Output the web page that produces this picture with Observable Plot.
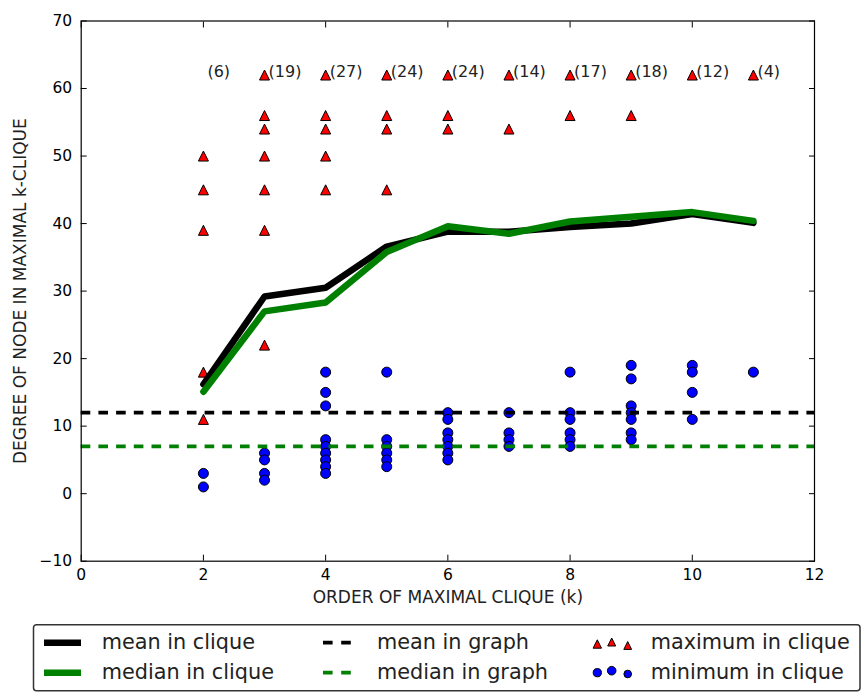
<!DOCTYPE html>
<html><head><meta charset="utf-8">
<script src="https://cdn.jsdelivr.net/npm/d3@7"></script>
<script src="https://cdn.jsdelivr.net/npm/@observablehq/plot@0.6"></script>
<style>
html,body{margin:0;padding:0;background:#fff;}
#chart{position:relative;width:862px;height:692px;font-family:"DejaVu Sans",sans-serif;}
#legend{display:block;}
</style></head><body><div id="chart"></div>
<script>
// ---- data ----
const cliqueOrder = [2, 3, 4, 5, 6, 7, 8, 9, 10, 11];
const cliqueCounts = [6, 19, 27, 24, 24, 14, 17, 18, 12, 4];
const meanInClique = [16.2, 29.2, 30.5, 36.6, 38.8, 38.8, 39.5, 40.0, 41.4, 40.1];
const medianInClique = [15.1, 27.0, 28.3, 35.8, 39.6, 38.5, 40.3, 41.0, 41.7, 40.4];
const meanInGraph = 12;
const medianInGraph = 7;
const maxInClique = [
  [50, 45, 39, 18, 11],
  [62, 56, 54, 50, 45, 39, 22],
  [62, 56, 54, 50, 45],
  [62, 56, 54, 45],
  [62, 56, 54],
  [62, 54],
  [62, 56],
  [62, 56],
  [62],
  [62]
];
const minInClique = [
  [3, 1],
  [6, 5, 3, 2],
  [18, 15, 13, 8, 7, 6, 5, 4, 3],
  [18, 8, 7, 6, 5, 4],
  [12, 11, 9, 8, 7, 6, 5],
  [12, 9, 8, 7],
  [18, 12, 11, 9, 8, 7],
  [19, 17, 13, 12, 11, 9, 8],
  [19, 18, 15, 11],
  [18]
];
const countLabelY = 62;
const xTicks = [0, 2, 4, 6, 8, 10, 12];
const yTicks = [-10, 0, 10, 20, 30, 40, 50, 60, 70];
const xLabel = "ORDER OF MAXIMAL CLIQUE (k)";
const yLabel = "DEGREE OF NODE IN MAXIMAL k-CLIQUE";
const legendItems = ["mean in clique", "median in clique", "mean in graph", "median in graph", "maximum in clique", "minimum in clique"];

// ---- derived tables ----
const lineRows = cliqueOrder.map((k, i) => ({k, mean: meanInClique[i], median: medianInClique[i]}));
const maxRows = cliqueOrder.flatMap((k, i) => maxInClique[i].map(v => ({k, v})));
const minRows = cliqueOrder.flatMap((k, i) => minInClique[i].map(v => ({k, v})));
const countRows = cliqueOrder.map((k, i) => ({k, y: countLabelY, label: `(${cliqueCounts[i]})`}));

const triangleUp = {
  draw(ctx, size) {
    const r = Math.sqrt(size / Math.PI);
    ctx.moveTo(0, -r);
    ctx.lineTo(r, r);
    ctx.lineTo(-r, r);
    ctx.closePath();
  }
};

const chart = Plot.plot({
  width: 862,
  height: 620,
  marginLeft: 80.7,
  marginRight: 48,
  marginTop: 20.5,
  marginBottom: 59.3,
  style: {fontFamily: "DejaVu Sans, sans-serif", fontSize: "15.5px", color: "black", background: "white"},
  x: {domain: [0, 12]},
  y: {domain: [-10, 70]},
  marks: [
    Plot.dot(maxRows, {x: "k", y: "v", symbol: triangleUp, r: 5, fill: "#ff0000", stroke: "black", strokeWidth: 1}),
    Plot.dot(minRows, {x: "k", y: "v", symbol: "circle", r: 5, fill: "#0000ff", stroke: "black", strokeWidth: 1}),
    Plot.line(lineRows, {x: "k", y: "mean", stroke: "black", strokeWidth: 6.5}),
    Plot.line(lineRows, {x: "k", y: "median", stroke: "#008000", strokeWidth: 6.5}),
    Plot.ruleY([meanInGraph], {stroke: "black", strokeWidth: 3.8, strokeDasharray: "9.6,8.1"}),
    Plot.ruleY([medianInGraph], {stroke: "#008000", strokeWidth: 3.8, strokeDasharray: "9.6,8.1"}),
    Plot.text(countRows, {x: "k", y: "y", text: "label", textAnchor: "start", lineAnchor: "bottom", dx: 4, dy: 2, fontSize: 16, fill: "#222"}),
    Plot.axisX({ticks: xTicks, tickSize: -6, tickPadding: 14, label: null, tickFormat: d => d}),
    Plot.axisX({ticks: xTicks, anchor: "top", tickSize: -6, label: null, tickFormat: () => ""}),
    Plot.axisY({ticks: yTicks, tickSize: -6, tickPadding: 15, label: null, tickFormat: d => d < 0 ? "\u2212" + Math.abs(d) : String(d)}),
    Plot.axisY({ticks: yTicks, anchor: "right", tickSize: -6, label: null, tickFormat: () => ""}),
    Plot.frame({stroke: "black", strokeWidth: 1.2}),
    Plot.text([xLabel], {text: d => d, frameAnchor: "bottom", textAnchor: "middle", dy: 41.3, fontSize: 17, fill: "#222"}),
    Plot.text([yLabel], {text: d => d, frameAnchor: "left", textAnchor: "middle", lineAnchor: "middle", rotate: -90, dx: -60.7, fontSize: 17, fill: "#222"})
  ]
});

const root = document.getElementById("chart");
root.appendChild(chart);

// ---- legend (below the plot SVG) ----
const leg = d3.create("svg").attr("id", "legend").attr("width", 862).attr("height", 72)
  .attr("font-family", "DejaVu Sans, sans-serif");
leg.append("rect").attr("x", 33.5).attr("y", 4.7).attr("width", 826.5).attr("height", 66)
  .attr("rx", 3).attr("fill", "white").attr("stroke", "#333").attr("stroke-width", 1.5);
const rowY = [22.7, 52.7];
// column 1: solid lines
[["black", 0], ["#008000", 1]].forEach(([c, r]) => {
  leg.append("line").attr("x1", 44).attr("x2", 81).attr("y1", rowY[r]).attr("y2", rowY[r])
    .attr("stroke", c).attr("stroke-width", 6.5);
});
// column 2: dashed lines
[["black", 0], ["#008000", 1]].forEach(([c, r]) => {
  leg.append("line").attr("x1", 323).attr("x2", 351).attr("y1", rowY[r]).attr("y2", rowY[r])
    .attr("stroke", c).attr("stroke-width", 3.8).attr("stroke-dasharray", "9.6,8.6");
});
// column 3: markers
const triPts = [[597.3, 1.3, 4.2], [611.7, -0.7, 4.0], [627.7, 2.8, 3.9]];
triPts.forEach(([x, dy, r]) => {
  const y = rowY[0] + dy;
  leg.append("path").attr("d", `M${x},${y - r}L${x + r},${y + r}L${x - r},${y + r}Z`)
    .attr("fill", "#ff0000").attr("stroke", "black").attr("stroke-width", 1);
});
const cirPts = [[597.3, 0, 4.1], [611.7, -2, 4.3], [627.7, 1.3, 3.8]];
cirPts.forEach(([x, dy, r]) => {
  leg.append("circle").attr("cx", x).attr("cy", rowY[1] + dy).attr("r", r)
    .attr("fill", "#0000ff").attr("stroke", "black").attr("stroke-width", 1);
});
const textPos = [[101.7, 0], [101.7, 1], [377, 0], [377, 1], [650.7, 0], [650.7, 1]];
legendItems.forEach((t, i) => {
  leg.append("text").attr("x", textPos[i][0]).attr("y", rowY[textPos[i][1]] + 6.6)
    .attr("font-size", 20.8).attr("fill", "#222").text(t);
});
root.appendChild(leg.node());
</script></body></html>
